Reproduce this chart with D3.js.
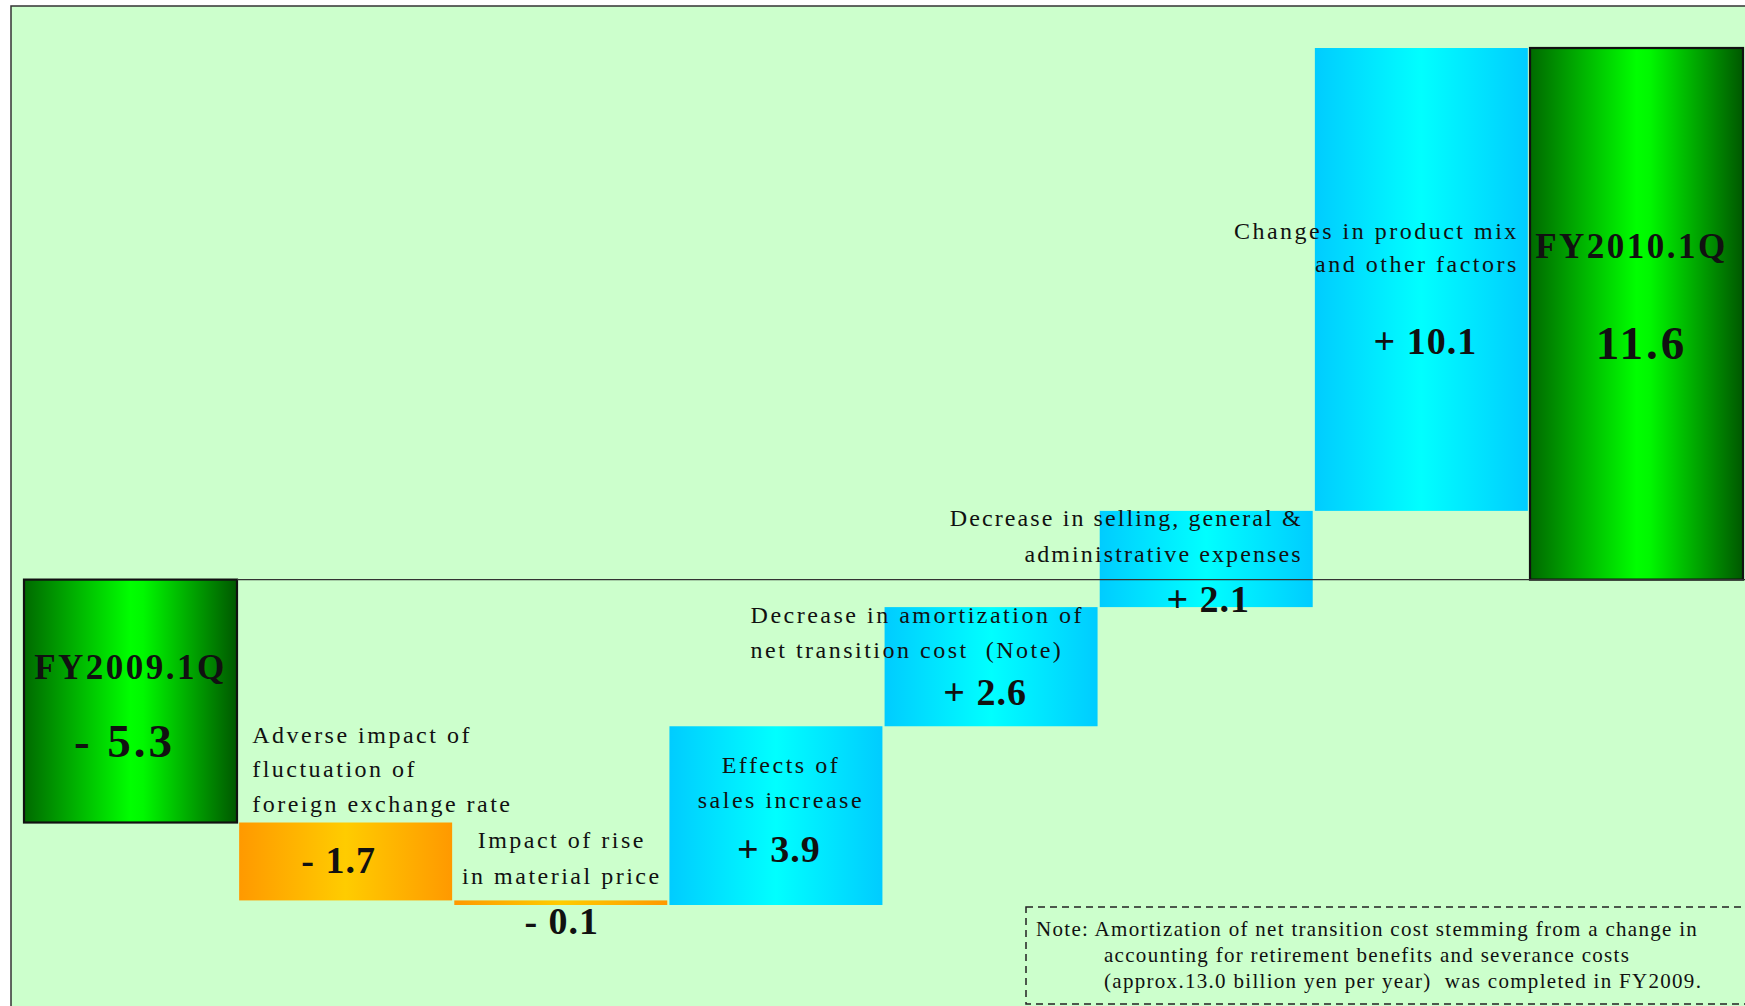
<!DOCTYPE html>
<html><head><meta charset="utf-8">
<script src="https://cdn.jsdelivr.net/npm/d3@7"></script>
<style>html,body{margin:0;padding:0;background:#fff;overflow:hidden} text{white-space:pre}</style>
</head><body><svg id="c" width="1745" height="1006"></svg>
<script>
// ---- data ----
const categories = ["FY2009.1Q","Adverse impact of fluctuation of foreign exchange rate","Impact of rise in material price","Effects of sales increase","Decrease in amortization of net transition cost (Note)","Decrease in selling, general & administrative expenses","Changes in product mix and other factors","FY2010.1Q"];
const values = [-5.3, -1.7, -0.1, 3.9, 2.6, 2.1, 10.1, 11.6];
const kinds = ["total","decrease","decrease","increase","increase","increase","increase","total"];
const valueLabels = ["- 5.3","- 1.7","- 0.1","+ 3.9","+ 2.6","+ 2.1","+ 10.1","11.6"];
const totalNames = ["FY2009.1Q","","","","","","","FY2010.1Q"];
const labelLines = [[],["Adverse impact of","fluctuation of","foreign exchange rate"],["Impact of rise","in material price"],["Effects of","sales increase"],["Decrease in amortization of","net transition cost  (Note)"],["Decrease in selling, general &","administrative expenses"],["Changes in product mix","and other factors"],[]];
const noteLines = ["Note: Amortization of net transition cost stemming from a change in","accounting for retirement benefits and severance costs","(approx.13.0 billion yen per year)  was completed in FY2009."];

// ---- waterfall ----
let run = 0;
const bars = values.map((v,i)=>{
  if (kinds[i]==="total"){ run = v; return {i, y0:0, y1:v}; }
  const s = run; run = Math.round((run+v)*10)/10; return {i, y0:s, y1:run};
});

const W=1745,H=1006;
const svg = d3.select("#c");
const FONT = "'Liberation Serif','Times New Roman',serif";

const x = d3.scaleBand().domain(categories).range([24,1743]).paddingInner(0.01).paddingOuter(0);
const ext = d3.extent(bars.flatMap(b=>[b.y0,b.y1]));
const y = d3.scaleLinear().domain(ext).range([905,48]);
const bw = x.bandwidth();

// gradients
const defs = svg.append("defs");
function grad(id, stops){
  const g = defs.append("linearGradient").attr("id",id).attr("x1",0).attr("x2",1).attr("y1",0).attr("y2",0);
  stops.forEach(s=>g.append("stop").attr("offset",s[0]).attr("stop-color",s[1]));
}
grad("gGreen",[[0,"#006a00"],[0.5,"#00ff00"],[0.56,"#00f800"],[1,"#005800"]]);
grad("gBlue",[[0,"#00ccff"],[0.5,"#00ffff"],[1,"#00ccff"]]);
grad("gOrange",[[0,"#ff9900"],[0.5,"#ffcc00"],[1,"#ff9900"]]);

// frame
svg.append("rect").attr("x",11).attr("y",6).attr("width",W).attr("height",H)
  .attr("fill","#ccffcc").attr("stroke","#333").attr("stroke-width",1.5);

function geom(i){
  const b=bars[i], x0=x(categories[i]);
  return {x0, x1:x0+bw, cx:x0+bw/2, top:y(Math.max(b.y0,b.y1)), bot:y(Math.min(b.y0,b.y1))};
}

// bars
svg.append("g").selectAll("rect").data(bars).join("rect")
  .attr("x",d=>x(categories[d.i]))
  .attr("width",bw)
  .attr("y",d=>y(Math.max(d.y0,d.y1)))
  .attr("height",d=>Math.abs(y(d.y0)-y(d.y1)))
  .attr("fill",d=>kinds[d.i]==="total"?"url(#gGreen)":kinds[d.i]==="increase"?"url(#gBlue)":"url(#gOrange)")
  .attr("stroke",d=>kinds[d.i]==="total"?"#111":"none")
  .attr("stroke-width",2.2);

// zero line
svg.append("line").attr("x1",x(categories[0])+bw).attr("x2",W)
  .attr("y1",y(0)).attr("y2",y(0)).attr("stroke","#333").attr("stroke-width",1.3);

// category labels
const layout = {
  1:{anchor:"start", dx:g=>g.x0+13, by:g=>g.top-80, step:34.5, ls:2.5},
  2:{anchor:"middle", dx:g=>g.cx+1, by:g=>g.top-52, step:36, ls:2.5},
  3:{anchor:"middle", dx:g=>g.cx+5, by:g=>g.top+47, step:35, ls:2.5},
  4:{anchor:"start", dx:g=>g.x0-134, by:g=>g.top+16, step:35, ls:2.5},
  5:{anchor:"end", dx:g=>g.x1-10, by:g=>g.top+15, step:36, ls:2.1},
  6:{anchor:"end", dx:g=>g.x1-9, by:g=>g.top+191, step:33, ls:2.5}
};
const lab = svg.append("g").attr("font-family",FONT).attr("fill","#111");
Object.keys(layout).forEach(k=>{
  const i=+k, L=layout[k], g=geom(i);
  labelLines[i].forEach((t,j)=>{
    lab.append("text").attr("x",L.dx(g)).attr("y",L.by(g)+j*L.step)
      .attr("text-anchor",L.anchor).attr("font-size",24).attr("letter-spacing",L.ls).text(t);
  });
});

// value labels
const vpos = {
  0:g=>[g.cx-6, g.top+177, 47],
  1:g=>[g.cx-7, g.top+50, 38],
  2:g=>[g.cx+1, g.bot+29, 38],
  3:g=>[g.cx+3, g.top+136, 38],
  4:g=>[g.cx-6, g.top+98, 38],
  5:g=>[g.cx+2, g.top+101, 38],
  6:g=>[g.cx+4, g.top+306, 38],
  7:g=>[g.cx+5, g.top+311, 47]
};
valueLabels.forEach((t,i)=>{
  const p = vpos[i](geom(i));
  lab.append("text").attr("x",p[0]).attr("y",p[1]).attr("text-anchor","middle")
    .attr("font-size",p[2]).attr("font-weight","bold").attr("letter-spacing",p[2]>40?3:1).text(t);
});
// total names
const npos = {0:g=>[g.cx, g.top+99], 7:g=>[g.cx-5, g.top+210]};
[0,7].forEach(i=>{
  const p = npos[i](geom(i));
  lab.append("text").attr("x",p[0]).attr("y",p[1]).attr("text-anchor","middle")
    .attr("font-size",35).attr("font-weight","bold").attr("letter-spacing",2.5).text(totalNames[i]);
});

// note box
svg.append("rect").attr("x",1026).attr("y",907).attr("width",800).attr("height",97)
  .attr("fill","none").attr("stroke","#222").attr("stroke-width",1.5).attr("stroke-dasharray","7,5");
noteLines.forEach((t,j)=>{
  lab.append("text").attr("x",j===0?1036:1104).attr("y",936+j*26)
    .attr("font-size",21).attr("letter-spacing",1.3).text(t);
});
</script></body></html>
